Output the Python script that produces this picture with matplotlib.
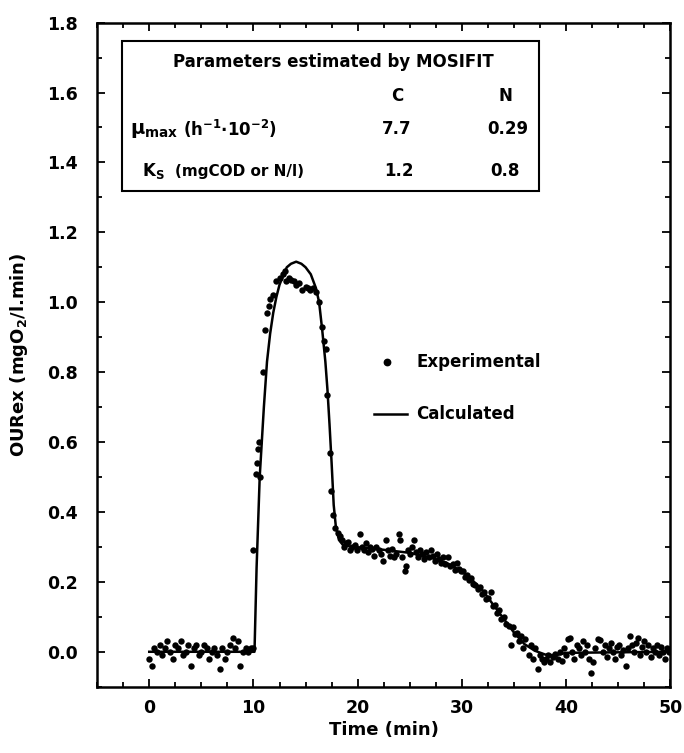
import matplotlib.pyplot as plt
from matplotlib.patches import Rectangle
from matplotlib.lines import Line2D
from matplotlib.ticker import MultipleLocator

# experimental OURex points (time in min, value in mgO2/l.min)
t_base = [0, 0.25, 0.5, 0.75, 1.0, 1.25, 1.5, 1.75, 2.0, 2.25, 2.5, 2.75, 3.0, 3.25,
          3.5, 3.75, 4.0, 4.25, 4.5, 4.75, 5.0, 5.25, 5.5, 5.75, 6.0, 6.25, 6.5, 6.75,
          7.0, 7.25, 7.5, 7.75, 8.0, 8.25, 8.5, 8.75, 9.0, 9.25, 9.5, 9.75, 10.0]
y_base = [-0.02, -0.04, 0.01, 0.0, 0.02, -0.01, 0.01, 0.03, 0.0, -0.02, 0.02, 0.01,
          0.03, -0.01, 0.0, 0.02, -0.04, 0.01, 0.02, -0.01, 0.0, 0.02, 0.01, -0.02,
          0.0, 0.01, -0.01, -0.05, 0.01, -0.02, 0.0, 0.02, 0.04, 0.01, 0.03, -0.04,
          0.0, 0.01, 0.0, 0.01, 0.01]

t_peak = [10.0, 10.2, 10.3, 10.4, 10.5, 10.6, 10.9, 11.1, 11.3, 11.5, 11.6, 11.9,
          12.2, 12.5, 12.8, 13.0, 13.1, 13.4, 13.6, 13.9, 14.1, 14.4, 14.7, 15.0,
          15.2, 15.4, 15.7, 16.0, 16.3, 16.6, 16.8, 17.0, 17.1, 17.3, 17.4, 17.6,
          17.8, 18.1]
y_peak = [0.29, 0.51, 0.54, 0.58, 0.60, 0.50, 0.80, 0.92, 0.97, 0.99, 1.01, 1.02,
          1.06, 1.07, 1.08, 1.09, 1.06, 1.07, 1.065, 1.06, 1.05, 1.055, 1.035, 1.045,
          1.04, 1.035, 1.04, 1.03, 1.0, 0.93, 0.89, 0.865, 0.735, 0.57, 0.46, 0.39,
          0.355, 0.34]

t_plat = [18.3, 18.5, 18.7, 18.9, 19.1, 19.3, 19.5, 19.7, 19.9, 20.2, 20.4, 20.6,
          20.8, 21.0, 21.2, 21.4, 21.6, 21.8, 22.0, 22.2, 22.4, 22.7, 22.9, 23.1,
          23.3, 23.5, 23.7, 24.0, 24.1, 24.3, 24.5, 24.6, 24.8, 25.0, 25.2, 25.4,
          25.6, 25.8, 26.0, 26.2, 26.4, 26.6, 26.8, 27.0, 27.2, 27.4, 27.6, 27.8,
          28.0, 28.2, 28.4, 28.7, 28.9, 29.1, 29.3, 29.5, 29.7, 29.9]
y_plat = [0.33, 0.32, 0.30, 0.31, 0.315, 0.29, 0.30, 0.305, 0.29, 0.337, 0.30, 0.29,
          0.31, 0.285, 0.30, 0.295, 0.275, 0.30, 0.29, 0.28, 0.26, 0.32, 0.29, 0.275,
          0.295, 0.27, 0.28, 0.337, 0.32, 0.27, 0.23, 0.245, 0.29, 0.28, 0.30, 0.32,
          0.285, 0.27, 0.29, 0.28, 0.265, 0.285, 0.27, 0.29, 0.275, 0.26, 0.28, 0.265,
          0.255, 0.27, 0.25, 0.27, 0.245, 0.25, 0.235, 0.255, 0.237, 0.23]

t_fall = [30.1, 30.3, 30.5, 30.7, 30.9, 31.1, 31.3, 31.5, 31.7, 31.9, 32.1, 32.3,
          32.5, 32.8, 33.0, 33.2, 33.4, 33.6, 33.8, 34.0, 34.2, 34.5, 34.7, 34.9,
          35.1, 35.3, 35.5, 35.7, 35.9, 36.1, 36.4, 36.6, 36.8, 37.0, 37.3, 37.5,
          37.7, 37.9]
y_fall = [0.23, 0.215, 0.22, 0.205, 0.21, 0.195, 0.19, 0.18, 0.185, 0.165, 0.17,
          0.15, 0.155, 0.17, 0.13, 0.135, 0.11, 0.12, 0.095, 0.10, 0.08, 0.075, 0.02,
          0.07, 0.05, 0.055, 0.03, 0.045, 0.01, 0.037, -0.01, 0.02, -0.02, 0.01,
          -0.05, -0.01, -0.02, -0.03]

t_tail = [38.1, 38.3, 38.5, 38.7, 38.9, 39.2, 39.4, 39.6, 39.8, 40.0, 40.2, 40.4,
          40.6, 40.8, 41.0, 41.2, 41.4, 41.6, 41.8, 42.0, 42.2, 42.4, 42.6, 42.8,
          43.1, 43.3, 43.5, 43.7, 43.9, 44.1, 44.3, 44.5, 44.7, 44.9, 45.1, 45.3,
          45.5, 45.7, 45.9, 46.1, 46.3, 46.5, 46.7, 46.9, 47.1, 47.3, 47.5, 47.7,
          47.9, 48.1, 48.3, 48.5, 48.7, 48.9, 49.1, 49.3, 49.5, 49.7, 49.9]
y_tail = [-0.02, -0.01, -0.03, -0.015, -0.005, -0.02, 0.0, -0.025, 0.01, -0.01,
          0.037, 0.04, 0.0, -0.02, 0.02, 0.01, -0.01, 0.03, 0.0, 0.02, -0.02, -0.06,
          -0.03, 0.01, 0.037, 0.035, 0.0, 0.02, -0.015, 0.01, 0.025, 0.0, -0.02,
          0.015, 0.02, -0.01, 0.005, -0.04, 0.01, 0.045, 0.02, 0.0, 0.025, 0.04,
          -0.01, 0.015, 0.03, 0.0, 0.02, -0.015, 0.01, 0.0, 0.02, -0.01, 0.015,
          0.0, -0.02, 0.01, 0.0]

# calculated curve (MOSIFIT fit)
t_calc = [0, 10.1, 10.3, 10.6, 11.0, 11.3, 11.6, 11.9, 12.2, 12.5, 12.9, 13.2, 13.6,
          14.1, 14.6, 15.0, 15.5, 16.0, 16.3, 16.6, 16.9, 17.1, 17.3, 17.5, 17.7,
          17.9, 18.2, 18.6, 19.5, 21.0, 23.0, 25.0, 27.0, 28.5, 30.0, 31.0, 32.0,
          33.0, 34.0, 35.0, 36.0, 37.0, 38.0, 39.0, 40.0, 50.0]
y_calc = [0.0, 0.0, 0.24, 0.50, 0.70, 0.83, 0.91, 0.97, 1.015, 1.05, 1.08, 1.10,
          1.11, 1.116, 1.11, 1.10, 1.08, 1.04, 1.0, 0.92, 0.83, 0.75, 0.65, 0.54,
          0.42, 0.36, 0.32, 0.305, 0.30, 0.297, 0.29, 0.283, 0.27, 0.255, 0.23,
          0.205, 0.175, 0.135, 0.095, 0.055, 0.022, 0.003, -0.008, -0.01, -0.003, 0.0]

t_exp = t_base + t_peak + t_plat + t_fall + t_tail
y_exp = y_base + y_peak + y_plat + y_fall + y_tail

plt.rcParams['font.family'] = 'DejaVu Sans'
plt.rcParams['font.weight'] = 'bold'
plt.rcParams['mathtext.default'] = 'bf'

fig = plt.figure(figsize=(6.84, 7.53), dpi=100)
ax = fig.add_axes([0.142, 0.088, 0.838, 0.882])

ax.plot(t_calc, y_calc, color='black', lw=1.8)
ax.plot(t_exp, y_exp, 'o', color='black', ms=4.6, mew=0)

ax.set_xlim(-5, 50)
ax.set_ylim(-0.1, 1.8)
ax.xaxis.set_major_locator(MultipleLocator(10))
ax.xaxis.set_minor_locator(MultipleLocator(2.5))
ax.yaxis.set_major_locator(MultipleLocator(0.2))
ax.yaxis.set_minor_locator(MultipleLocator(0.1))
ax.yaxis.set_major_formatter(plt.FormatStrFormatter('%.1f'))
ax.tick_params(which='both', direction='in', top=True, right=True, width=1.3)
ax.tick_params(which='major', length=6, labelsize=12.5)
ax.tick_params(axis='y', which='major', pad=14)
ax.tick_params(axis='x', which='major', pad=9)
ax.tick_params(which='minor', length=3.5)
for s in ax.spines.values():
    s.set_linewidth(1.8)

ax.set_xlabel('Time (min)', fontsize=13, fontweight='bold', labelpad=3)
ax.set_ylabel('OURex (mgO$_2$/l.min)', fontsize=13, fontweight='bold', labelpad=12)

# parameter box
ax.add_patch(Rectangle((0.043, 0.747), 0.728, 0.226, transform=ax.transAxes,
                       fill=False, lw=1.5, ec='black'))
tk = dict(transform=ax.transAxes, fontsize=12, fontweight='bold', va='center')
ax.text(0.413, 0.940, 'Parameters estimated by MOSIFIT', ha='center', **tk)
ax.text(0.523, 0.890, 'C', ha='center', **tk)
ax.text(0.712, 0.890, 'N', ha='center', **tk)
ax.text(0.058, 0.838, r'$\mu_{max}$', ha='left', transform=ax.transAxes,
        fontsize=14, va='center')
ax.text(0.150, 0.840, r'(h$^{-1}$$\bullet$10$^{-2}$)', ha='left', **tk)
ax.text(0.523, 0.840, '7.7', ha='center', **tk)
ax.text(0.717, 0.840, '0.29', ha='center', **tk)
ax.text(0.078, 0.776, r'K$_S$', ha='left', **tk)
ax.text(0.135, 0.776, '(mgCOD or N/l)', ha='left', transform=ax.transAxes,
        fontsize=11, fontweight='bold', va='center')
ax.text(0.526, 0.776, '1.2', ha='center', **tk)
ax.text(0.712, 0.776, '0.8', ha='center', **tk)

# legend drawn by hand
ax.plot([0.505], [0.489], 'o', color='black', ms=4.6, transform=ax.transAxes)
ax.text(0.557, 0.489, 'Experimental', ha='left', **tk)
ax.add_line(Line2D([0.483, 0.540], [0.411, 0.411], color='black', lw=1.8,
                   transform=ax.transAxes))
ax.text(0.557, 0.411, 'Calculated', ha='left', **tk)

fig.savefig('out.png', dpi=100)
